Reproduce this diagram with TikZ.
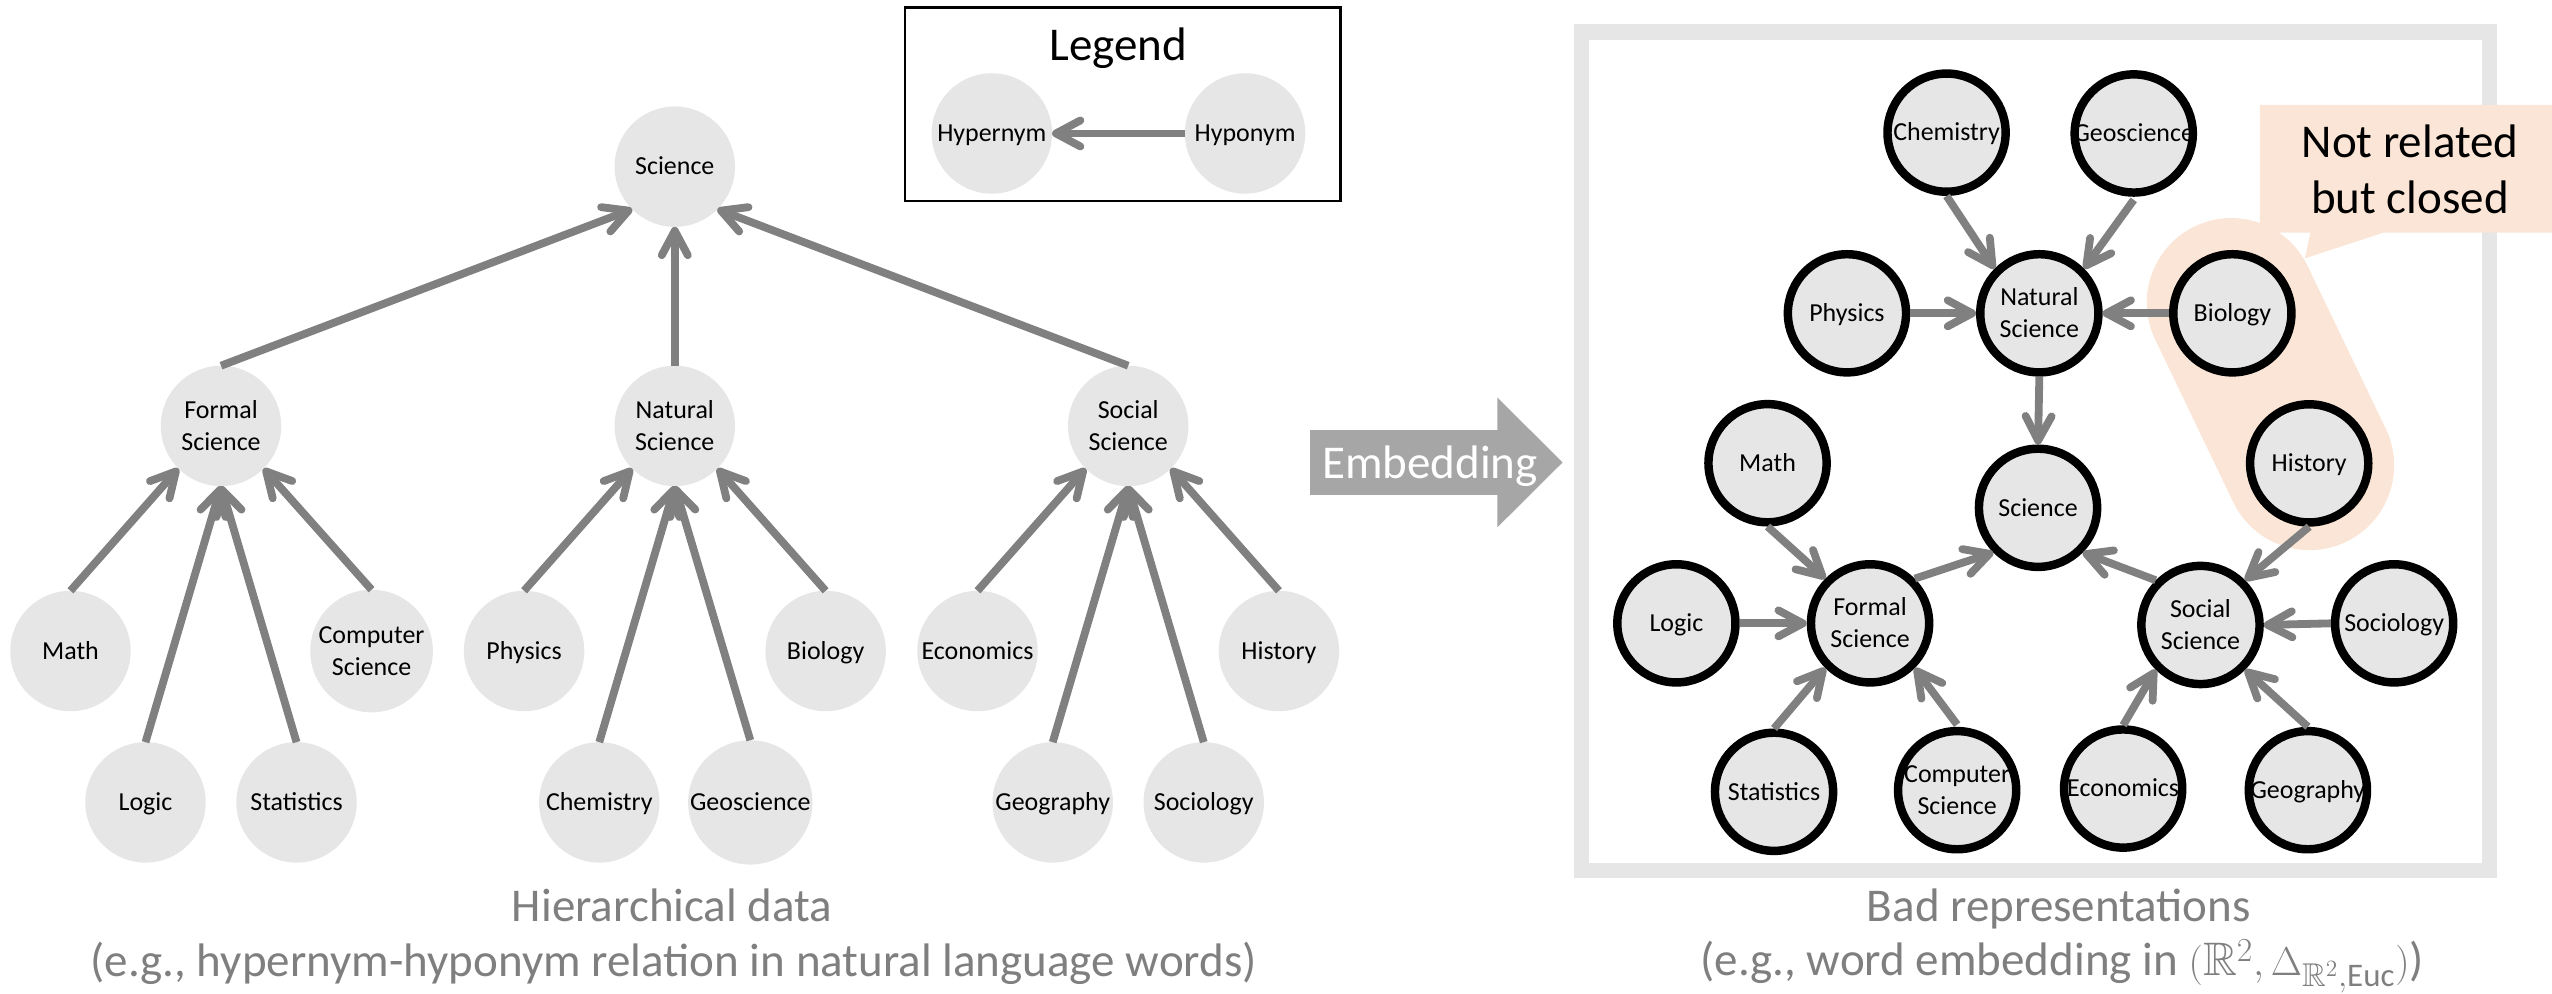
\documentclass[tikz,border=0pt]{standalone}
\usepackage{fontspec}
\setmainfont{Carlito}
\usepackage{amssymb}
\usetikzlibrary{arrows.meta}

\definecolor{nodefill}{HTML}{E6E6E6}
\definecolor{edgegray}{HTML}{808080}
\definecolor{peach}{HTML}{FBE5D6}
\definecolor{bannergray}{HTML}{A6A6A6}
\definecolor{captiongray}{HTML}{7F7F7F}
\definecolor{framegray}{HTML}{E6E6E6}

% strut that keeps every label line on the same baseline grid
\newcommand{\nstrut}{\rule[-4.4bp]{0pt}{19bp}}

\tikzset{
  word/.style={circle, fill=nodefill, minimum size=74bp, inner sep=0pt,
    outer sep=0pt, align=center, font=\fontsize{16}{19.5}\selectfont},
  emb/.style={word, minimum size=72.6bp, outer sep=2.6bp},
  ring/.style={draw=black, line width=5.2bp},
  rel/.style={draw=edgegray, line width=4.8bp,
    -{Straight Barb[length=15bp,width=16bp,round]}},
  caption/.style={text=captiongray, font=\fontsize{29}{34}\selectfont,
    anchor=base, inner sep=0pt},
  bigtext/.style={font=\fontsize{29}{34}\selectfont, anchor=base, inner sep=0pt},
}

\begin{document}
\begin{tikzpicture}[x=1bp, y=-1bp]
\useasboundingbox (0,0) rectangle (1568,610.7);

% ---------------- hierarchy (left) ----------------
\node[word] (sci) at (414.6,102.4) {Science\nstrut};
\node[word] (fsc) at (135.8,261.7) {Formal\nstrut\\Science\nstrut};
\node[word] (nsc) at (414.6,261.7) {Natural\nstrut\\Science\nstrut};
\node[word] (ssc) at (693.2,261.7) {Social\nstrut\\Science\nstrut};

\node[word] (math) at (43.3,400) {Math\nstrut};
\node[word] (cs)   at (228.3,400) {Computer\nstrut\\Science\nstrut};
\node[word] (logic) at (89.4,493) {Logic\nstrut};
\node[word] (stat)  at (182.2,493) {Statistics\nstrut};

\node[word] (phys) at (322,400) {Physics\nstrut};
\node[word] (bio)  at (507.3,400) {Biology\nstrut};
\node[word] (chem) at (368.2,493) {Chemistry\nstrut};
\node[word] (geos) at (461,493) {Geoscience\nstrut};

\node[word] (econ) at (600.6,400) {Economics\nstrut};
\node[word] (hist) at (785.8,400) {History\nstrut};
\node[word] (geog) at (646.8,493) {Geography\nstrut};
\node[word] (soci) at (739.6,493) {Sociology\nstrut};

\draw[rel] (fsc.north) -- (sci.south west);
\draw[rel] (nsc.north) -- (sci.south);
\draw[rel] (ssc.north) -- (sci.south east);

\draw[rel] (math.north) -- (fsc.south west);
\draw[rel] (logic.north) -- (fsc.south);
\draw[rel] (stat.north) -- (fsc.south);
\draw[rel] (cs.north) -- (fsc.south east);

\draw[rel] (phys.north) -- (nsc.south west);
\draw[rel] (chem.north) -- (nsc.south);
\draw[rel] (geos.north) -- (nsc.south);
\draw[rel] (bio.north) -- (nsc.south east);

\draw[rel] (econ.north) -- (ssc.south west);
\draw[rel] (geog.north) -- (ssc.south);
\draw[rel] (soci.north) -- (ssc.south);
\draw[rel] (hist.north) -- (ssc.south east);

% ---------------- legend ----------------
\draw[line width=1.7bp] (556,4.5) rectangle (823.5,123.5);
\node[bigtext] (legtitle) at (687,36.9) {Legend};
\node[word] (hyper) at (609.4,82) {Hypernym\nstrut};
\node[word] (hypo)  at (765,82) {Hyponym\nstrut};
\draw[rel] (hypo.west) -- (hyper.east);

% ---------------- embedding banner ----------------
\fill[bannergray] (804.9,264.2) -- (920,264.2) -- (920,244.3) -- (960.1,284.1)
  -- (920,324) -- (920,304.1) -- (804.9,304.1) -- cycle;
\node[bigtext, text=white] (embtext) at (878.6,293.9) {Embedding};

% ---------------- embedded space (right) ----------------
\draw[framegray, line width=9.5bp] (971.6,19.7) rectangle (1529.5,535);

% highlight around the two unrelated words
\draw[peach, line width=104bp, line cap=round] (1371,186) -- (1419,286);

% callout
\fill[peach] (1388.5,64.5) -- (1570,64.5) -- (1570,143) -- (1464.3,143)
  -- (1416.2,158.7) -- (1419.5,143) -- (1388.5,143) -- cycle;
\node[bigtext] (note1) at (1480.8,96.7) {Not related};
\node[bigtext] (note2) at (1480.8,131) {but closed};

\node[emb] (rchem) at (1196,81.5) {Chemistry\nstrut};
\node[emb] (rgeos) at (1311,82) {Geoscience\nstrut};
\node[emb] (rphys) at (1134.8,192.5) {Physics\nstrut};
\node[emb] (rnsc)  at (1253,192.5) {Natural\nstrut\\Science\nstrut};
\node[emb] (rbio)  at (1371.6,192.5) {Biology\nstrut};
\node[emb] (rmath) at (1086,284.6) {Math\nstrut};
\node[emb] (rsci)  at (1252.2,312) {Science\nstrut};
\node[emb] (rhist) at (1418.8,284.7) {History\nstrut};
\node[emb] (rlogic) at (1030,383) {Logic\nstrut};
\node[emb] (rfsc)  at (1149,383) {Formal\nstrut\\Science\nstrut};
\node[emb] (rssc)  at (1352,384) {Social\nstrut\\Science\nstrut};
\node[emb] (rsoci) at (1471,383) {Sociology\nstrut};
\node[emb] (rstat) at (1090,486.5) {Statistics\nstrut};
\node[emb] (rcs)   at (1202.5,485.5) {Computer\nstrut\\Science\nstrut};
\node[emb] (recon) at (1304.5,484.5) {Economics\nstrut};
\node[emb] (rgeog) at (1418,485.5) {Geography\nstrut};

% outlines drawn over the labels
\foreach \n in {rchem,rgeos,rphys,rnsc,rbio,rmath,rsci,rhist,rlogic,rfsc,rssc,rsoci,rstat,rcs,recon,rgeog}
  \draw[ring] (\n.center) circle[radius=36.3bp];

\draw[rel] (rchem.south) -- (rnsc.north west);
\draw[rel] (rgeos.south) -- (rnsc.north east);
\draw[rel] (rphys.east) -- (rnsc.west);
\draw[rel] (rbio.west) -- (rnsc.east);
\draw[rel] (rnsc.south) -- (rsci.north);

\draw[rel] (rmath.south) -- (rfsc.north west);
\draw[rel] (rlogic.east) -- (rfsc.west);
\draw[rel] (rstat.north) -- (rfsc.south west);
\draw[rel] (rcs.north) -- (rfsc.south east);
\draw[rel] (rfsc.north east) -- (rsci.south west);

\draw[rel] (rssc.north west) -- (rsci.south east);
\draw[rel] (rhist.south) -- (rssc.north east);
\draw[rel] (rsoci.west) -- (rssc.east);
\draw[rel] (recon.north) -- (rssc.south west);
\draw[rel] (rgeog.north) -- (rssc.south east);

% ---------------- captions ----------------
\node[caption] (lcap1) at (413,566.3) {Hierarchical data};
\node[caption] (lcap2) at (414,600) {(e.g., hypernym-hyponym relation in natural language words)};
\node[caption] (rcap1) at (1265,566.3) {Bad representations};
\node[caption] (rcap2) at (1267,599.5) {(e.g., word embedding in $(\mathbb{R}^2,\Delta_{\mathbb{R}^2,\mathrm{Euc}})$)};
\end{tikzpicture}
\end{document}
